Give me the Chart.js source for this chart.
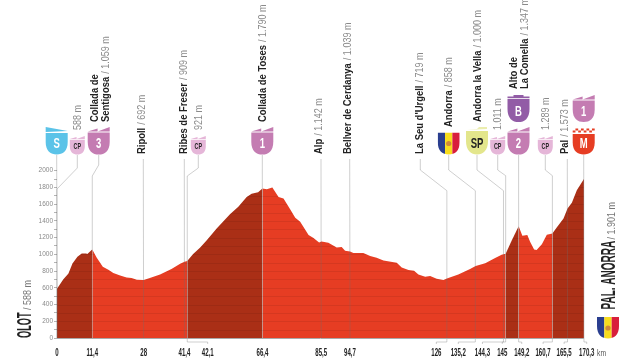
<!DOCTYPE html>
<html>
<head>
<meta charset="utf-8">
<style>
  html, body { margin: 0; padding: 0; background: #fff; }
  canvas { display: block; }
</style>
<script src="https://cdn.jsdelivr.net/npm/chart.js@4"></script>
</head>
<body>
<canvas id="profile" width="635" height="358"></canvas>
<script>
// profile
const profileKm = [0,2,3.7,5,6.6,8,9.4,9.8,11.2,11.4,12.8,14.8,16.6,18.2,20.4,22.5,24.1,25.8,28,30,33.3,37,39.8,41.2,42.1,44,46.2,48.4,51.6,55.9,58.6,61.3,62.9,65,66.4,67.8,69.6,71.6,73.2,75.4,77,78.6,81.3,82.9,84.7,85.5,87.7,90.4,92,93.1,94.7,95.8,99,101.2,103.3,105.5,109.8,111.4,113.6,115.4,116.8,119,120.6,122.7,124.9,126,129.7,133.5,135.3,138.4,141.6,143.7,145,147,149.2,150.4,152,152.9,154.2,155,156.7,158.3,160.1,161.5,163.7,165,166.4,168,170.3];
const profileElev = [589,700,772,891,971,1011,1011,1003,1051,1059,963,852,816,776,748,724,716,697,692,716,760,824,888,911,921,1003,1079,1170,1309,1480,1568,1687,1723,1743,1787,1779,1799,1687,1667,1536,1437,1389,1230,1194,1142,1154,1138,1083,1087,1043,1035,1015,1015,979,959,927,899,844,812,804,760,732,740,708,692,712,760,824,860,895,955,995,1007,1170,1337,1222,1230,1150,1059,1051,1122,1234,1250,1321,1429,1548,1616,1767,1901];

// darker climbs
const climbs = [[0,11.4],[42.1,66.4],[145,149.2],[160.1,170.3]];

// km where each waypoint sits, where its label sits, and the label text
const wayKm = [0,11.4,28,41.2,42.1,66.4,85.4,94.7,126,135.2,144.3,145,149.2,160.1,165,170.3];
const tickKm = [0,11.4,28,41.2,48.7,66.4,85.4,94.7,122.6,129.7,137.5,143.9,150.2,157.1,163.9,171.2];
const tickLabels = ['0','11,4','28','41,4','42,1','66,4','85,5','94,7','126','135,2','144,3','145','149,2','160,7','165,5','170,3'];

// rotated place names: [name lines, altitude]
const placeNames = [
  [[], '588 m'], [['Collada de','Sentigosa'], '/ 1.059 m'], [['Ripoll'], '/ 692 m'], [['Ribes de Freser'], '/ 909 m'],
  [[], '921 m'], [['Collada de Toses'], '/ 1.790 m'], [['Alp'], '/ 1.142 m'], [['Bellver de Cerdanya'], '/ 1.039 m'],
  [["La Seu d'Urgell"], '/ 719 m'], [['Andorra'], '/ 858 m'], [['Andorra la Vella'], '/ 1.000 m'], [[], '1.011 m'],
  [['Alto de','La Comella'], '/ 1.347 m'], [[], '1.289 m'], [['Pal'], '/ 1.573 m']
];
// baseline x and bottom y of each place name
const placeSpots = [[81,130],[98,122],[144.7,154],[186.5,154],[202,130],[266,122],[322,154],[351,154],[422.5,154],[452,127],[480.5,122],[501,130],[517,89],[548.7,130],[567.5,154]];

// shields: kind, x, top, bottom
const shields = [
  ['S',56.7,127,154.5],['CP',77.3,136,154.5],['3',98.7,127,154.5],['CP',198.3,136,154.5],['1',262.3,127,154.5],['AD',448.7,132.5,154.5],
  ['SP',477,127,154.5],['CP',497.7,136,154.5],['2',518.5,127,154.5],['B',518.5,95,122],['CP',545.3,136,154.5],['M',583.7,127,154.5],['1',583.7,95,122],
  ['AD',608,317,338.5]
];

// leaders: index into wayKm, start x, start y, elbow y1, elbow y2
const leaders = [
  [0,56.7,155,null,null],[0,77.3,155,168,189],[1,98.7,155,165,176],[2,143.3,159,null,null],[3,184.3,159,null,null],
  [4,198.3,155,168,176],[5,262.3,155,null,null],[6,321,159,null,null],[7,349.7,159,null,null],[8,420.3,159,170,190.7],
  [9,448.7,155,170,190.7],[10,477,155,170,190.7],[11,497.7,155,170,175.7],[12,518.6,155,null,null],[13,545.3,155,170,175.7],
  [14,567.3,159,null,null],[15,583.7,155,null,null]
];

const RED = '#e63d23';
const DARK = '#aa2f16';
const LINE = 'rgba(110,110,110,0.33)';

function inClimb(km) {
  return climbs.some(c => km >= c[0] && km < c[1]);
}

// condensed text, none of the installed fonts is narrow enough
function squeezed(ctx, text, size, sx, color, weight, align, dy) {
  ctx.save();
  ctx.scale(sx, 1);
  ctx.font = (weight || 'bold') + ' ' + size + 'px "Liberation Sans"';
  ctx.fillStyle = color;
  ctx.textAlign = align || 'left';
  ctx.textBaseline = 'alphabetic';
  ctx.fillText(text, 0, dy || 0);
  ctx.restore();
}

function shieldPath(ctx, cx, t, w, b) {
  const l = cx - w / 2, r = cx + w / 2, h = b - t;
  ctx.beginPath();
  ctx.moveTo(l, t);
  ctx.lineTo(r, t);
  ctx.lineTo(r, t + h * 0.42);
  ctx.bezierCurveTo(r, t + h * 0.85, cx + w * 0.27, b, cx, b);
  ctx.bezierCurveTo(cx - w * 0.27, b, l, t + h * 0.85, l, t + h * 0.42);
  ctx.closePath();
}

function drawShield(ctx, kind, cx, t, bottom) {
  const small = kind === 'CP';
  const w = small ? 15 : 22;
  const colors = { S:'#5bc3e8', CP:'#e5b6d8', '1':'#c47cb2', '2':'#c47cb2', '3':'#c47cb2', B:'#925ca6', SP:'#e3e68c', M:RED };
  const l = cx - w / 2, r = cx + w / 2;
  ctx.save();
  if (kind === 'AD') {
    shieldPath(ctx, cx, t, w, bottom);
    ctx.clip();
    ctx.fillStyle = '#2a3e8f';
    ctx.fillRect(l, t, w / 3, 30);
    ctx.fillStyle = '#f7dc1e';
    ctx.fillRect(l + w / 3, t, w / 3, 30);
    ctx.fillStyle = '#d81f3c';
    ctx.fillRect(l + 2 * w / 3, t, w / 3, 30);
    ctx.fillStyle = '#d0893a';
    ctx.beginPath();
    ctx.arc(cx, t + 11, 2.6, 0, Math.PI * 2);
    ctx.fill();
    ctx.restore();
    return;
  }
  ctx.fillStyle = colors[kind];
  if (kind === 'S') {
    ctx.beginPath();
    ctx.moveTo(l, t);
    ctx.lineTo(r, t + 4);
    ctx.lineTo(l, t + 5);
    ctx.closePath();
    ctx.fill();
    shieldPath(ctx, cx, t + 6, w, bottom);
    ctx.fill();
  } else if (kind === 'M') {
    shieldPath(ctx, cx, t + 7, w, bottom);
    ctx.fill();
    // checkered band
    for (let i = 0; i < 8; i++) {
      ctx.fillRect(l + i * w / 8, t + (i % 2 ? 1.5 : 3.5), w / 8, 2);
    }
  } else if (kind === 'SP') {
    ctx.beginPath();
    ctx.moveTo(l + 1, t + 3);
    ctx.lineTo(cx, t + 2);
    ctx.lineTo(cx + 2, t);
    ctx.lineTo(r - 1, t);
    ctx.lineTo(r - 1, t + 2);
    ctx.closePath();
    ctx.globalAlpha = 0.7;
    ctx.fill();
    ctx.globalAlpha = 1;
    shieldPath(ctx, cx, t + 4, w, bottom);
    ctx.fill();
  } else if (kind === 'B') {
    ctx.fillRect(cx - 5, t, 10, 2);
    ctx.fillRect(l, t + 1.5, w, 1.7);
    shieldPath(ctx, cx, t + 4, w, bottom);
    ctx.fill();
  } else {
    // mountain top with two small peaks
    const s = small ? 3 : 4.6;
    ctx.beginPath();
    ctx.moveTo(l, t + s);
    ctx.lineTo(l + w * 0.45, t + s * 0.3);
    ctx.lineTo(l + w * 0.45, t + s);
    ctx.lineTo(r, t);
    ctx.lineTo(r, t + s);
    ctx.closePath();
    ctx.fill();
    shieldPath(ctx, cx, t + s + 0.8, w, bottom);
    ctx.fill();
  }
  ctx.restore();
  // letter
  ctx.save();
  ctx.translate(cx, bottom - (small ? 5.5 : 6.5));
  if (kind === 'SP') squeezed(ctx, 'SP', 14, 0.68, '#222', 'bold', 'center');
  else if (small) squeezed(ctx, 'CP', 9, 0.6, '#222', 'bold', 'center');
  else squeezed(ctx, kind, 14, 0.68, '#fff', 'bold', 'center');
  ctx.restore();
}

// stripes clipped to the mountain, plus all the vertical lines
const overlays = {
  id: 'overlays',
  afterDatasetsDraw(chart) {
    const ctx = chart.ctx, x = chart.scales.x, y = chart.scales.y;
    ctx.save();
    ctx.beginPath();
    ctx.moveTo(x.getPixelForValue(0), y.getPixelForValue(0));
    profileKm.forEach((k, i) => ctx.lineTo(x.getPixelForValue(k), y.getPixelForValue(profileElev[i])));
    ctx.lineTo(x.getPixelForValue(170.3), y.getPixelForValue(0));
    ctx.closePath();
    ctx.clip();
    ctx.strokeStyle = 'rgba(0,0,0,0.07)';
    ctx.lineWidth = 1;
    y.ticks.forEach(t => {
      const py = Math.round(y.getPixelForValue(t.value)) + 0.5;
      ctx.beginPath();
      ctx.moveTo(x.left, py);
      ctx.lineTo(x.right, py);
      ctx.stroke();
    });
    ctx.restore();

    ctx.save();
    ctx.strokeStyle = LINE;
    ctx.lineWidth = 1;
    const base = y.getPixelForValue(0);
    // leaders from the names down to the axis
    leaders.forEach(l => {
      const px = x.getPixelForValue(wayKm[l[0]]);
      ctx.beginPath();
      ctx.moveTo(l[1], l[2]);
      if (l[3] !== null) {
        ctx.lineTo(l[1], l[3]);
        ctx.lineTo(px, l[4]);
      }
      ctx.lineTo(px, base);
      ctx.stroke();
    });
    // elbows down to the shifted km labels
    wayKm.forEach((k, i) => {
      const px = x.getPixelForValue(k), tx = x.getPixelForValue(tickKm[i]);
      if (Math.abs(px - tx) < 1) return;
      ctx.beginPath();
      ctx.moveTo(px, base);
      ctx.lineTo(px, base + 4);
      ctx.lineTo(tx, base + 4);
      ctx.lineTo(tx, base + 6);
      ctx.stroke();
    });
    // ground line
    ctx.strokeStyle = '#a9a9a9';
    ctx.beginPath();
    ctx.moveTo(x.getPixelForValue(0), base + 0.5);
    ctx.lineTo(x.getPixelForValue(170.3), base + 0.5);
    ctx.stroke();
    ctx.restore();
  },
  afterDraw(chart) {
    const ctx = chart.ctx, x = chart.scales.x;
    shields.forEach(s => drawShield(ctx, s[0], s[1], s[2], s[3]));

    // km labels, squeezed, at the axis' own tick positions
    x.ticks.forEach((t, i) => {
      ctx.save();
      ctx.translate(x.getPixelForTick(i), 355.5);
      squeezed(ctx, t.label, 10.5, 0.58, '#222', 'bold', 'center');
      ctx.restore();
    });

    // rotated names
    placeNames.forEach((p, i) => {
      const spot = placeSpots[i];
      ctx.save();
      ctx.translate(spot[0], spot[1]);
      ctx.rotate(-Math.PI / 2);
      let w = 0;
      const row = Math.max(p[0].length - 1, 0) * 10.6;
      ctx.font = 'bold 10.5px "Liberation Sans"';
      p[0].forEach((line, j) => {
        // second line sits one row to the right
        squeezed(ctx, line, 10.5, 0.9, '#222', 'bold', 'left', j * 10.6);
        w = ctx.measureText(line).width * 0.9 + 3;
      });
      ctx.translate(w, 0);
      squeezed(ctx, p[1], 10, 0.9, '#8a8a8a', 'normal', 'left', row);
      ctx.restore();
    });

    // start and finish
    ctx.save();
    ctx.translate(30.7, 338);
    ctx.rotate(-Math.PI / 2);
    squeezed(ctx, 'OLOT', 20, 0.46, '#222');
    ctx.translate(28, 0);
    squeezed(ctx, '/ 588 m', 11.5, 0.78, '#777', 'normal');
    ctx.restore();

    ctx.save();
    ctx.translate(615, 309.5);
    ctx.rotate(-Math.PI / 2);
    squeezed(ctx, 'PAL. ANORRA', 20, 0.5, '#222');
    ctx.translate(70, 0);
    squeezed(ctx, '/ 1.901 m', 11.5, 0.78, '#777', 'normal');
    ctx.restore();

    ctx.save();
    ctx.translate(597, 355.5);
    squeezed(ctx, 'km', 9, 0.75, '#555', 'normal');
    ctx.restore();
  }
};

new Chart(document.getElementById('profile'), {
  type: 'line',
  data: {
    datasets: [{
      data: profileKm.map((k, i) => ({ x: k, y: profileElev[i] })),
      fill: 'origin',
      backgroundColor: RED,
      borderWidth: 0,
      pointRadius: 0,
      tension: 0,
      segment: {
        backgroundColor: c => inClimb(c.p0.parsed.x) ? DARK : RED
      }
    }]
  },
  plugins: [overlays],
  options: {
    responsive: false,
    animation: false,
    events: [],
    layout: { padding: { top: 170.7, right: 45.8, left: 0, bottom: 0 } },
    plugins: { legend: { display: false }, tooltip: { enabled: false } },
    scales: {
      x: {
        type: 'linear',
        min: 0,
        max: 172,
        border: { display: false },
        grid: { display: false, drawTicks: false },
        afterFit: s => { s.height = 20; },
        afterBuildTicks: s => { s.ticks = tickKm.map(v => ({ value: v })); },
        ticks: {
          display: false,
          autoSkip: false,
          callback: (v, i) => tickLabels[i]
        }
      },
      y: {
        min: 0,
        max: 2000,
        border: { display: false },
        grid: { drawOnChartArea: false, tickLength: 3, tickColor: '#b5b5b5' },
        afterFit: s => { s.width = 57; },
        ticks: {
          stepSize: 100,
          autoSkip: false,
          padding: 1,
          color: '#8a8a8a',
          font: { family: '"Liberation Sans"', size: 6.5 },
          callback: v => v % 200 === 0 ? v : ''
        }
      }
    }
  }
});
</script>
</body>
</html>
